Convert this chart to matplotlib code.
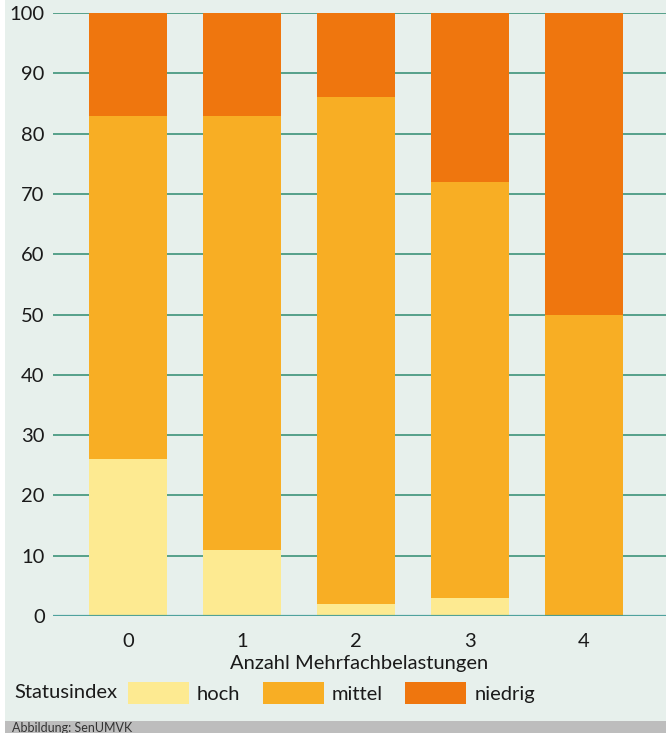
import matplotlib
matplotlib.use("Agg")
import matplotlib.pyplot as plt
from matplotlib.patches import Rectangle

categories = ["0", "1", "2", "3", "4"]
hoch = [26, 11, 2, 3, 0]
mittel = [57, 72, 84, 69, 50]
niedrig = [17, 17, 14, 28, 50]
series_names = ["hoch", "mittel", "niedrig"]
colors = ["#fdea91", "#f8ae24", "#ef760e"]
yticks = [0, 10, 20, 30, 40, 50, 60, 70, 80, 90, 100]

plt.rcParams['font.family'] = ['Lato', 'DejaVu Sans']

W, H = 666, 733
fig = plt.figure(figsize=(W / 100, H / 100), dpi=100)
bg = "#e7f0ec"
fig.patch.set_facecolor(bg)
FS = 14.5

ax = fig.add_axes([53 / W, 117 / H, 613 / W, 603 / H])
ax.set_facecolor(bg)

x = list(range(len(categories)))
bottoms = [0] * len(categories)
handles = []
for vals, name, c in zip([hoch, mittel, niedrig], series_names, colors):
    b = ax.bar(x, vals, bottom=bottoms, width=0.684, color=c, label=name, zorder=2, linewidth=0)
    handles.append(b)
    bottoms = [bo + v for bo, v in zip(bottoms, vals)]

ax.set_xlim(-0.658, 4.719)
ax.set_ylim(0, 100)
ax.set_yticks(yticks)
ax.set_yticklabels([str(t) for t in yticks])
ax.set_xticks(x)
ax.set_xticklabels(categories)
for y in yticks:
    if y == 0:
        ax.axhline(y, color="#3f9a96", linewidth=1.6, zorder=3, alpha=0.9)
    else:
        ax.axhline(y, color="#2e8b6f", linewidth=1.1, zorder=1)

for s in ax.spines.values():
    s.set_visible(False)
ax.tick_params(axis='both', length=0, labelsize=FS, colors="#1a1a1a")
ax.tick_params(axis='y', pad=6)
ax.tick_params(axis='x', pad=12)
ax.set_xlabel("Anzahl Mehrfachbelastungen", fontsize=FS, color="#1a1a1a", labelpad=4)

# legend
fig.text(14 / W, 1 - 693 / H, "Statusindex", fontsize=FS, color="#1a1a1a", va='center', ha='left')
fig.legend(handles=handles, labels=series_names, loc='center left',
           bbox_to_anchor=(128 / W, 1 - 693 / H), frameon=False, fontsize=FS, ncol=3,
           handlelength=3.03, handleheight=1.29, handletextpad=0.4, columnspacing=1.1,
           borderpad=0, borderaxespad=0, labelcolor="#1a1a1a")

# left white strip
fig.patches.append(Rectangle((0, 0), 5 / W, 1, transform=fig.transFigure, facecolor="white",
                             edgecolor='none', zorder=0))
# footer strip
fig.patches.append(Rectangle((5 / W, 0), 1, 12 / H, transform=fig.transFigure, facecolor="#bdbdbd",
                             edgecolor='none', zorder=0))
fig.text(12 / W, 10.5 / H, "Abbildung: SenUMVK", fontsize=9, color="#333333", va='top', ha='left')

fig.savefig("out.png", dpi=100, facecolor=fig.get_facecolor())
